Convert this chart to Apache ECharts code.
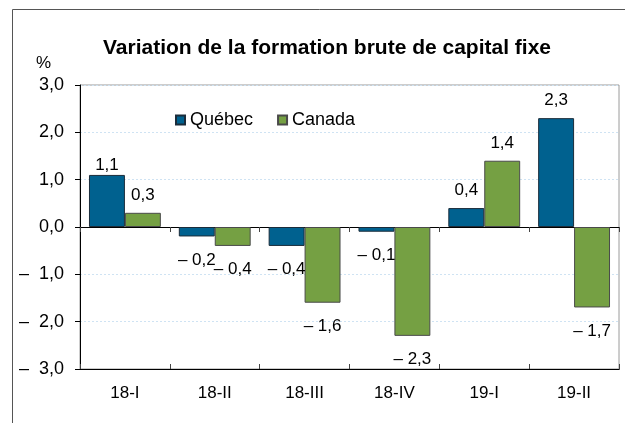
<!DOCTYPE html>
<html><head><meta charset="utf-8">
<script src="https://cdn.jsdelivr.net/npm/echarts@6/dist/echarts.min.js"></script>
<style>html,body{margin:0;padding:0;background:#fff}#c{width:625px;height:423px}</style>
</head><body><div id="c"></div>
<script>
const categories = ['18-I','18-II','18-III','18-IV','19-I','19-II'];
const quebec = [1.1, -0.2, -0.4, -0.1, 0.4, 2.3];
const canada = [0.3, -0.4, -1.6, -2.3, 1.4, -1.7];
const seriesNames = ['Québec','Canada'];
const yTicks = [-3, -2, -1, 0, 1, 2, 3];

const FONT = '"Liberation Sans", Arial, sans-serif';
function fmt(v, sep){
  const s = Math.abs(v).toFixed(1).replace('.', ',');
  return v < 0 ? '\u2013' + sep + s : s;
}
function dataWithLabels(arr, special){
  return arr.map((v,i)=>{
    const lbl = v >= 0 ? {position:'top', distance: (special && special[i]!=null) ? special[i] : 9}
                       : {position:'bottom', distance: 15};
    return {value: v, label: lbl};
  });
}
const chart = echarts.init(document.getElementById('c'), null, {renderer:'canvas'});
const lblStyle = {show:true, formatter:p=>fmt(p.value, ' '), color:'#000', fontSize:17, fontFamily:FONT};
chart.setOption({
  animation:false,
  backgroundColor:'#fff',
  textStyle:{fontFamily:FONT},
  title:{text:'Variation de la formation brute de capital fixe', left:322, textAlign:'center', top:33,
    textStyle:{fontSize:21, fontWeight:'bold', color:'#000', fontFamily:FONT}},
  graphic:[
    {type:'rect', shape:{x:12.5, y:9.5, width:700, height:500}, style:{fill:'none', stroke:'#555', lineWidth:1}, z:-1},
    {type:'text', left:36, top:55, style:{text:'%', fontSize:17, fill:'#000', fontFamily:FONT}}
  ],
  legend:{left:170, top:106, itemWidth:9, itemHeight:9, itemGap:24, icon:'rect',
    textStyle:{fontSize:18, color:'#000', fontFamily:FONT},
    data:seriesNames},
  grid:{left:80, top:85, right:6, bottom:54, show:true, borderColor:'#9a9a9a', borderWidth:1, containLabel:false},
  xAxis:[
    {type:'category', data:categories, position:'bottom', axisLine:{onZero:false, lineStyle:{color:'#000'}},
     axisTick:{show:false}, axisLabel:{fontSize:17, color:'#000', margin:16, fontFamily:FONT}},
    {type:'category', data:categories, position:'bottom', axisLine:{onZero:true, lineStyle:{color:'#000'}},
     axisTick:{show:true, length:5, lineStyle:{color:'#444'}}, axisLabel:{show:false}},
    {type:'category', data:categories, position:'bottom', axisLine:{onZero:true, lineStyle:{color:'#000'}},
     axisTick:{show:true, inside:true, length:5, lineStyle:{color:'#444'}}, axisLabel:{show:false}}
  ],
  yAxis:{type:'value', min:yTicks[0], max:yTicks[yTicks.length-1], interval:1,
    axisLine:{show:true, lineStyle:{color:'#000'}},
    axisTick:{show:true, length:5, lineStyle:{color:'#000'}},
    axisLabel:{formatter:v=>fmt(v, '  '), fontSize:18, color:'#000', margin:16, fontFamily:FONT},
    splitLine:{show:true, lineStyle:{color:'#cfe3f3', type:[2,2], width:1}}},
  series:[
    {name:seriesNames[0], type:'bar', data:dataWithLabels(quebec, {0:1}), barWidth:'40%', barGap:'0%', barCategoryGap:'20%',
     itemStyle:{color:'#00618f', borderColor:'#1b2c3a', borderWidth:1}, label:lblStyle},
    {name:seriesNames[1], type:'bar', data:dataWithLabels(canada), barWidth:'40%', barGap:'0%',
     itemStyle:{color:'#75a043', borderColor:'#4a4a4a', borderWidth:1}, label:lblStyle}
  ]
});
</script></body></html>
